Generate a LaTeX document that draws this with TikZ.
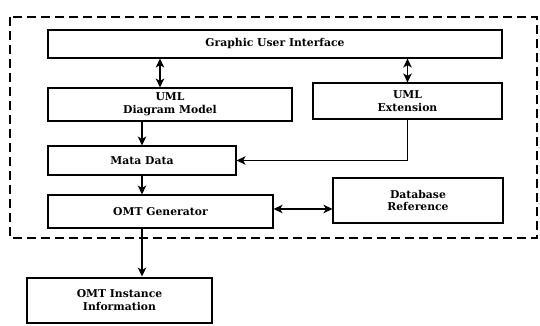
\documentclass[tikz,border=0pt]{standalone}
\usepackage{fontspec}
\setmainfont{DejaVu Serif}
\usetikzlibrary{arrows.meta}
\begin{document}
\begin{tikzpicture}[x=1pt,y=-1pt,
  box/.style={draw,line width=1.1pt,inner sep=0pt,align=center,font=\bfseries\fontsize{10.8}{12.5}\selectfont},
  tip/.style={Stealth[length=9pt,width=8.5pt,inset=2.5pt]},
  conn/.style={line width=1.1pt,-{Stealth[length=9pt,width=8.5pt,inset=2.5pt]}},
  dconn/.style={line width=1.1pt,{Stealth[length=9pt,width=8.5pt,inset=2.5pt]}-{Stealth[length=9pt,width=8.5pt,inset=2.5pt]}},
  frame/.style={line width=1.2pt,dash pattern=on 9pt off 5pt}]
\useasboundingbox (0,0) rectangle (540,326);
\draw[frame] (10,17) rectangle (537,238);
\node[box,minimum width=454pt,minimum height=28pt] (gui) at (275,44) {Graphic User Interface};
\node[box,minimum width=244pt,minimum height=33pt] (uml) at (170,104.5) {UML\\Diagram Model};
\node[box,minimum width=189pt,minimum height=36pt] (ext) at (407.5,101) {UML\\Extension};
\node[box,minimum width=188pt,minimum height=29pt] (meta) at (142,160.5) {Mata Data};
\node[box,minimum width=225pt,minimum height=33pt] (omt) at (160.5,211.5) {OMT Generator};
\node[box,minimum width=170pt,minimum height=45pt] (db) at (418,200.5) {Database\\Reference};
\node[box,line width=2pt,minimum width=185pt,minimum height=45pt] (inst) at (119.5,300) {OMT Instance\\Information};
\coordinate (c1) at (160,0);
\coordinate (c2) at (142,0);
\coordinate (c3) at (0,209);
\draw[dconn] (gui.south -| c1) -- (uml.north -| c1);
\draw[dconn] (gui.south -| ext) -- (ext.north);
\draw[conn] (uml.south -| c2) -- (meta.north -| c2);
\draw[conn] (ext.south) |- (meta.east);
\draw[conn] (meta.south -| c2) -- (omt.north -| c2);
\draw[dconn] (omt.east |- c3) -- (db.west |- c3);
\draw[conn] (omt.south -| c2) -- (inst.north -| c2);
\end{tikzpicture}
\end{document}
